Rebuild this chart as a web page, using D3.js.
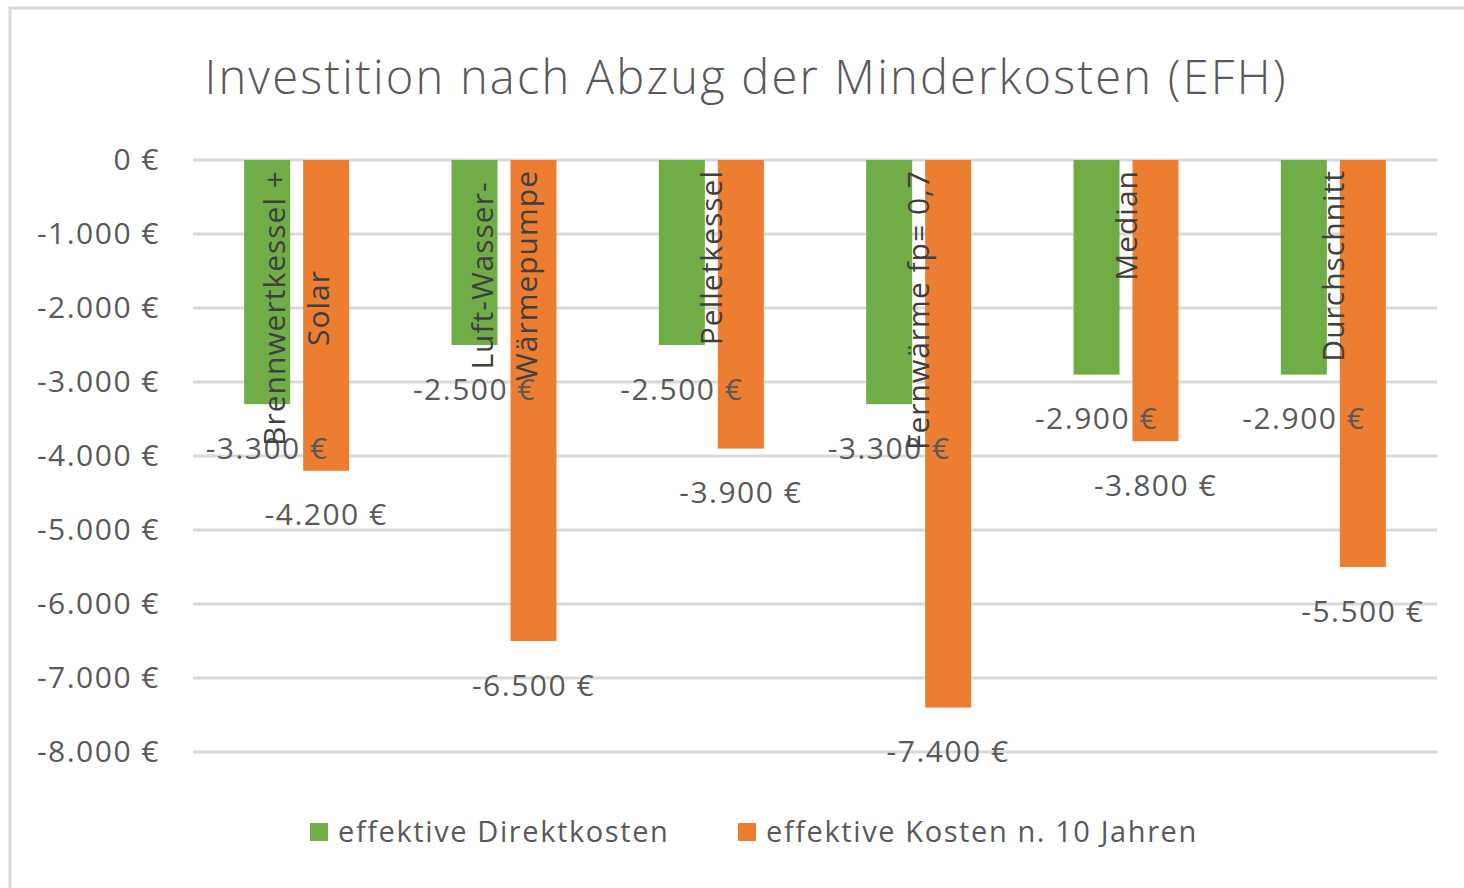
<!DOCTYPE html>
<html>
  <head>
    <title>Investition nach Abzug der Minderkosten</title>
    <script type="text/javascript" src="https://d3js.org/d3.v7.min.js"></script>
    <style>
      body { margin: 0; background: #fff; }
      text { font-family: "Open Sans", "Noto Sans", sans-serif; fill: #595959; }
    </style>
  </head>
  <body>
    <svg width="1464" height="888" class="chart"></svg>

    <script type="text/javascript">
      // categories (line breaks as shown on the axis)
      var categories = [
        'Brennwertkessel +\nSolar',
        'Luft-Wasser-\nWärmepumpe',
        'Pelletkessel',
        'Fernwärme fp= 0,7',
        'Median',
        'Durchschnitt'
      ];
      var seriesNames = ['effektive Direktkosten', 'effektive Kosten n. 10 Jahren'];
      var direktkosten = [-3300, -2500, -2500, -3300, -2900, -2900];
      var kosten10Jahre = [-4200, -6500, -3900, -7400, -3800, -5500];
      var yTicks = [0, -1000, -2000, -3000, -4000, -5000, -6000, -7000, -8000];
      var colors = ['#70ad47', '#ed7d31'];

      var de = d3.formatLocale({
        decimal: ',', thousands: '.', grouping: [3],
        currency: ['', ' €'], minus: '-'
      });
      var fmt = function(v) { return de.format(',.0f')(v) + ' €'; };

      var svg = d3.select('svg.chart');

      // chart frame (only top and left edges are inside the picture)
      svg.append('rect')
         .attr('x', 10).attr('y', 8)
         .attr('width', 1480).attr('height', 900)
         .attr('fill', 'none')
         .attr('stroke', '#d9d9d9')
         .attr('stroke-width', 3);

      svg.append('text')
         .attr('x', 746).attr('y', 94)
         .attr('text-anchor', 'middle')
         .style('font-size', '47px')
         .style('font-weight', 300)
         .style('letter-spacing', '2.2px')
         .text('Investition nach Abzug der Minderkosten (EFH)');

      var left = 193, right = 1437;
      var y = d3.scaleLinear().domain([-8000, 0]).range([752, 160]);
      var x0 = d3.scaleBand().domain(categories).range([left, right]).padding(0);
      var x1 = d3.scaleBand().domain(seriesNames)
                 .range([x0.bandwidth() / 2 - 52.5, x0.bandwidth() / 2 + 52.5])
                 .paddingInner(0.22);

      // gridlines
      svg.append('g')
         .selectAll('line')
         .data(yTicks)
         .enter()
         .append('line')
         .attr('x1', left).attr('x2', right)
         .attr('y1', function(d) { return y(d); })
         .attr('y2', function(d) { return y(d); })
         .attr('stroke', '#d9d9d9')
         .attr('stroke-width', 3);

      // y axis labels
      var yAxis = d3.axisLeft(y).tickValues(yTicks).tickFormat(fmt).tickSize(0).tickPadding(0);
      var ya = svg.append('g')
                  .attr('transform', 'translate(160,0)')
                  .call(yAxis);
      ya.select('.domain').remove();
      ya.selectAll('text')
        .attr('font-family', null)
        .attr('fill', null)
        .style('font-size', '30px')
        .style('letter-spacing', '1.5px');

      var series = [direktkosten, kosten10Jahre];
      var rows = categories.map(function(c, i) {
        return seriesNames.map(function(s, j) {
          return { cat: c, series: s, value: series[j][i], color: colors[j] };
        });
      });

      var groups = svg.append('g')
                      .selectAll('g.cat')
                      .data(rows)
                      .enter()
                      .append('g')
                      .attr('class', 'cat')
                      .attr('transform', function(d, i) { return 'translate(' + x0(categories[i]) + ',0)'; });

      groups.selectAll('rect')
            .data(function(d) { return d; })
            .enter()
            .append('rect')
            .attr('x', function(d) { return x1(d.series); })
            .attr('width', x1.bandwidth())
            .attr('y', y(0))
            .attr('height', function(d) { return y(d.value) - y(0); })
            .attr('fill', function(d) { return d.color; });

      // category labels, rotated, sitting at the zero line
      svg.append('g')
         .selectAll('g.catlabel')
         .data(categories)
         .enter()
         .append('g')
         .attr('class', 'catlabel')
         .attr('transform', function(d) {
           return 'translate(' + (x0(d) + x0.bandwidth() / 2) + ',170) rotate(-90)';
         })
         .each(function(d) {
           var g = d3.select(this);
           var lines = d.split('\n');
           var texts = lines.map(function(l, k) {
             return g.append('text')
                     .style('font-size', '30px')
                     .style('letter-spacing', '1px')
                     .attr('text-anchor', 'middle')
                     .attr('y', (k - (lines.length - 1) / 2) * 44)
                     .attr('dy', '0.35em')
                     .style('fill', '#404040')
                     .text(l);
           });
           var maxLen = d3.max(texts, function(t) { return t.node().getComputedTextLength(); });
           texts.forEach(function(t) { t.attr('x', -maxLen / 2); });
         });

      // data labels below bar ends
      groups.selectAll('text.val')
            .data(function(d) { return d; })
            .enter()
            .append('text')
            .attr('class', 'val')
            .attr('x', function(d) { return x1(d.series) + x1.bandwidth() / 2; })
            .attr('y', function(d) { return y(d.value) + 44; })
            .attr('dy', '0.35em')
            .attr('text-anchor', 'middle')
            .style('font-size', '30px')
            .style('letter-spacing', '1.5px')
            .text(function(d) { return fmt(d.value); });

      // legend
      var legendX = [310, 738];
      var legend = svg.append('g')
                      .selectAll('g.legend')
                      .data(seriesNames)
                      .enter()
                      .append('g')
                      .attr('class', 'legend')
                      .attr('transform', function(d, i) { return 'translate(' + legendX[i] + ',823)'; });
      legend.append('rect')
            .attr('width', 18).attr('height', 18)
            .attr('fill', function(d, i) { return colors[i]; });
      legend.append('text')
            .attr('x', 28).attr('y', 9)
            .attr('dy', '0.35em')
            .style('font-size', '29px')
            .style('letter-spacing', '1.6px')
            .text(function(d) { return d; });
    </script>
  </body>
</html>
